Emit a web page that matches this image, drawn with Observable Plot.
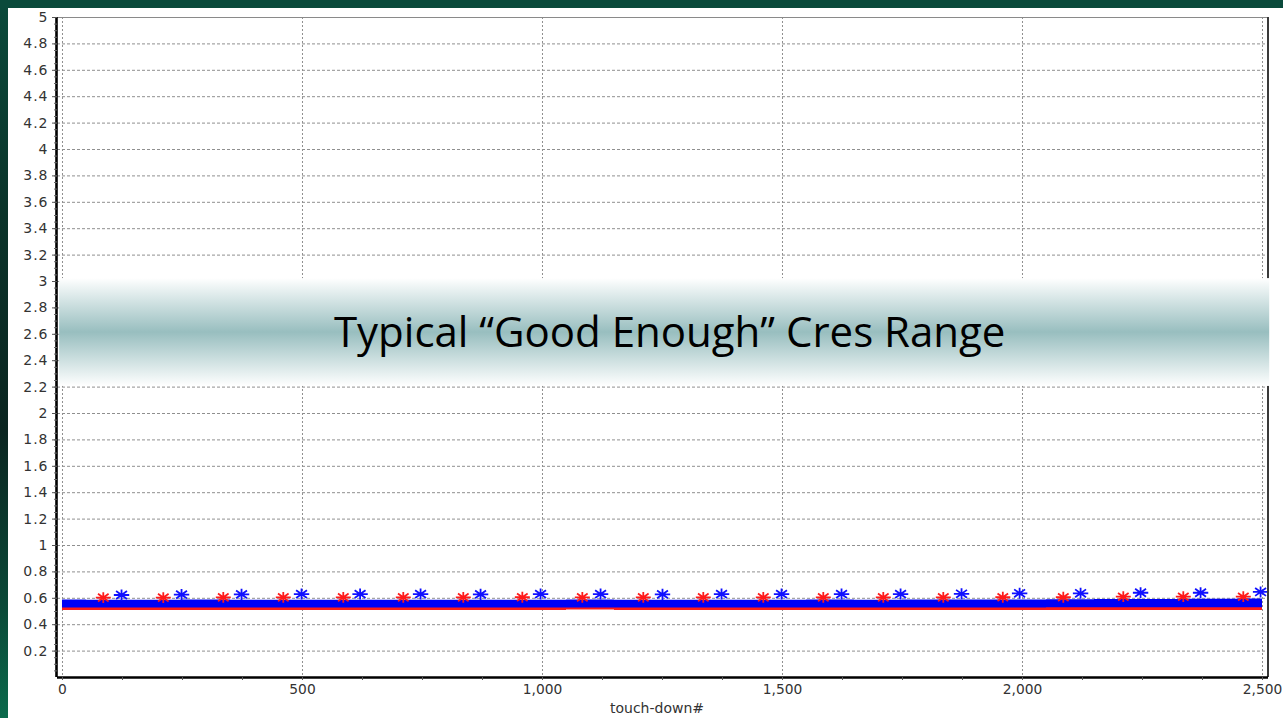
<!DOCTYPE html>
<html>
<head>
<meta charset="utf-8">
<script src="https://cdn.jsdelivr.net/npm/d3@7"></script>
<script src="https://cdn.jsdelivr.net/npm/@observablehq/plot@0.6"></script>
<style>
  html, body { margin: 0; padding: 0; }
  body {
    width: 1283px; height: 718px; overflow: hidden; position: relative;
    background: linear-gradient(to bottom, #0a4a3b 0%, #0a3329 30%, #0a2520 60%, #0a4a38 85%, #0b6a4c 100%);
  }
  #top { position: absolute; left: 0; top: 0; width: 1283px; height: 8px; background: #0a4a3b; }
  #panel { position: absolute; left: 8px; top: 8px; width: 1275px; height: 710px; background: #fff; }
</style>
</head>
<body>
<div id="top"></div>
<div id="panel"></div>
<script>
// ---- data ----
const bandX      = [0, 100, 200, 300, 400, 500, 600, 700, 800, 900, 1000, 1100, 1200, 1300, 1400, 1500, 1600, 1700, 1800, 1900, 2000, 2100, 2200, 2300, 2400, 2500];
const blueHigh   = [0.588, 0.586, 0.586, 0.587, 0.586, 0.586, 0.586, 0.586, 0.585, 0.586, 0.586, 0.587, 0.586, 0.586, 0.586, 0.586, 0.587, 0.586, 0.587, 0.587, 0.588, 0.589, 0.590, 0.591, 0.592, 0.594];
const blueLow    = [0.527, 0.527, 0.527, 0.527, 0.527, 0.527, 0.527, 0.527, 0.527, 0.527, 0.527, 0.527, 0.527, 0.527, 0.527, 0.527, 0.527, 0.527, 0.527, 0.527, 0.527, 0.528, 0.528, 0.528, 0.528, 0.528];
const redHigh    = [0.575, 0.560, 0.560, 0.560, 0.560, 0.560, 0.560, 0.560, 0.560, 0.560, 0.560, 0.560, 0.560, 0.560, 0.560, 0.560, 0.560, 0.560, 0.560, 0.560, 0.560, 0.560, 0.560, 0.560, 0.560, 0.560];
const redLow     = [0.508, 0.508, 0.508, 0.508, 0.508, 0.508, 0.508, 0.508, 0.508, 0.508, 0.508, 0.512, 0.508, 0.508, 0.508, 0.508, 0.508, 0.508, 0.508, 0.508, 0.508, 0.508, 0.508, 0.508, 0.508, 0.508];

const redStarX   = [85, 210, 335, 460, 585, 710, 835, 958, 1083, 1210, 1335, 1460, 1585, 1710, 1835, 1959, 2085, 2210, 2335, 2460];
const redStarY   = [0.605, 0.605, 0.607, 0.607, 0.607, 0.607, 0.607, 0.608, 0.607, 0.607, 0.607, 0.607, 0.607, 0.607, 0.607, 0.608, 0.608, 0.612, 0.612, 0.612];
const blueStarX  = [123, 248, 373, 498, 620, 746, 871, 996, 1121, 1250, 1373, 1498, 1623, 1746, 1873, 1994, 2121, 2246, 2371, 2496];
const blueStarY  = [0.625, 0.628, 0.630, 0.632, 0.632, 0.632, 0.630, 0.632, 0.632, 0.630, 0.632, 0.632, 0.632, 0.632, 0.634, 0.638, 0.638, 0.642, 0.642, 0.648];

const xTicks = [0, 500, 1000, 1500, 2000, 2500];
const yTicks = [0.2, 0.4, 0.6, 0.8, 1, 1.2, 1.4, 1.6, 1.8, 2, 2.2, 2.4, 2.6, 2.8, 3, 3.2, 3.4, 3.6, 3.8, 4, 4.2, 4.4, 4.6, 4.8, 5];
const bandLabel = "Typical “Good Enough” Cres Range";
const bandRange = [2.205, 3.022];
const xLabel = "touch-down#";

// ---- build tables ----
const red  = bandX.map((x, i) => ({x, lo: redLow[i],  hi: redHigh[i]}));
const blue = bandX.map((x, i) => ({x, lo: blueLow[i], hi: blueHigh[i]}));
const redStars  = redStarX.map((x, i) => ({x, y: redStarY[i]}));
const blueStars = blueStarX.map((x, i) => ({x, y: blueStarY[i]}));
const xMinor = d3.range(0, 2501, 125);
const yMinor = d3.range(0.05, 5.001, 0.05);

const xDom = [-10.4, 2512.5];

// 8-armed asterisk, slightly flattened like the stretched original
const star = {
  draw(ctx, size) {
    const r = Math.sqrt(size / Math.PI);
    const rx = r, ry = r * 0.72;
    const dx = rx * Math.SQRT1_2, dy = ry * Math.SQRT1_2;
    ctx.moveTo(-rx, 0); ctx.lineTo(rx, 0);
    ctx.moveTo(0, -ry); ctx.lineTo(0, ry);
    ctx.moveTo(-dx, -dy); ctx.lineTo(dx, dy);
    ctx.moveTo(-dx, dy); ctx.lineTo(dx, -dy);
  }
};

const font = "'DejaVu Sans', 'Liberation Sans', Arial, sans-serif";

const chart = Plot.plot({
  width: 1275,
  height: 710,
  marginLeft: 49,
  marginRight: 15,
  marginTop: 9,
  marginBottom: 41,
  x: {domain: xDom},
  y: {domain: [0, 5]},
  style: {background: "transparent", fontFamily: font, fontSize: "14px", color: "#333"},
  marks: [
    Plot.gridY(yTicks, {stroke: "#8f8f8f", strokeOpacity: 1, strokeDasharray: "3,2"}),
    Plot.gridX(xTicks, {stroke: "#8f8f8f", strokeOpacity: 1, strokeDasharray: "2,2"}),
    Plot.areaY(red,  {x: "x", y1: "lo", y2: "hi", fill: "#ff1a1a", curve: "step"}),
    Plot.areaY(blue, {x: "x", y1: "lo", y2: "hi", fill: "#0000f5", curve: "step"}),
    Plot.dot(redStars,  {x: "x", y: "y", symbol: star, r: 7.5, stroke: "#ff1a1a", strokeWidth: 1.8}),
    Plot.dot(blueStars, {x: "x", y: "y", symbol: star, r: 7.7, stroke: "#1010ff", strokeWidth: 1.8}),
    // frame
    Plot.ruleY([5], {stroke: "#8a8a8a", strokeWidth: 1}),
    Plot.ruleX([xDom[1]], {stroke: "#3a3a3a", strokeWidth: 2, dx: -0.5}),
    // highlighted band
    Plot.rect([{lo: bandRange[0], hi: bandRange[1]}], {x1: -6, x2: 2515, y1: "lo", y2: "hi", fill: "url(#bandGrad)"}),
    Plot.text([bandLabel], {x: 1265, y: 2.6, dy: -1, text: d => d, fontFamily: "'Open Sans', 'Noto Sans', sans-serif",
      fontSize: 42, fill: "#000", textAnchor: "middle", lineAnchor: "middle"}),
    Plot.ruleX([xDom[0]], {stroke: "#000", strokeWidth: 2.6, dx: -1}),
    Plot.ruleY([0], {stroke: "#000", strokeWidth: 2.6}),
    // axes
    Plot.axisY(yMinor, {tickSize: 3, text: null, stroke: "#666", label: null}),
    Plot.axisY(yTicks, {tickSize: 5, tickPadding: 4, stroke: "#555", tickFormat: d => String(d), label: null, fill: "#333", className: "ylab"}),
    Plot.axisX(xMinor, {tickSize: 3, text: null, stroke: "#555", label: null}),
    Plot.axisX(xTicks, {tickSize: 3, tickPadding: 4, stroke: "#555", tickFormat: d3.format(","), label: null, fill: "#333", fontSize: 13.8}),
    Plot.text([xLabel], {frameAnchor: "bottom", dy: 31, dx: -6, text: d => d, fontSize: 14, fill: "#333", lineAnchor: "middle"})
  ]
});

// gradient definition for the band
const ns = "http://www.w3.org/2000/svg";
const defs = document.createElementNS(ns, "defs");
defs.innerHTML = `<linearGradient id="bandGrad" x1="0" y1="0" x2="0" y2="1">
  <stop offset="0" stop-color="#ffffff"/>
  <stop offset="0.06" stop-color="#f2f7f7"/>
  <stop offset="0.5" stop-color="#98bebf"/>
  <stop offset="0.94" stop-color="#f2f7f7"/>
  <stop offset="1" stop-color="#ffffff"/>
</linearGradient>`;
chart.insertBefore(defs, chart.firstChild);
chart.style.position = "absolute";
chart.style.left = "8px";
chart.style.top = "8px";
// widen only the y tick labels a little, like the stretched original
chart.querySelectorAll("g.ylab text, .ylab text").forEach(t => { t.style.letterSpacing = "1px"; });
document.body.appendChild(chart);
</script>
</body>
</html>
